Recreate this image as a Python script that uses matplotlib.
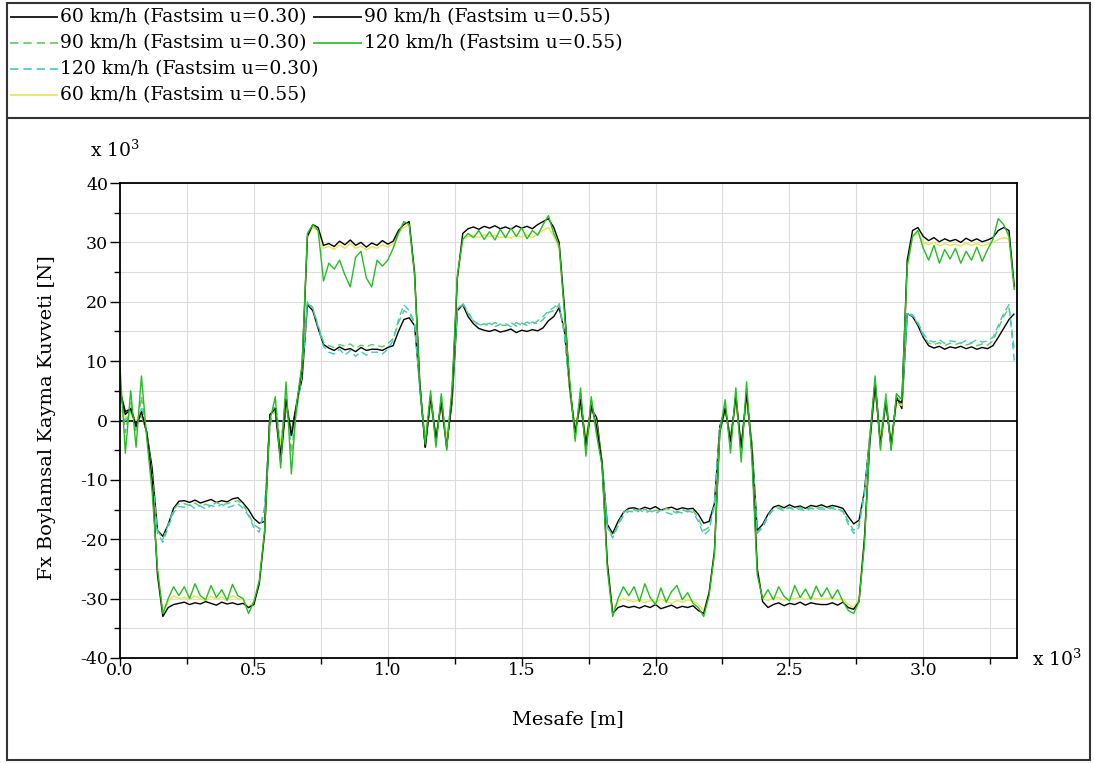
"""
Fx longitudinal creep force along the track, Fastsim u=0.30 / u=0.55
"""
import numpy as np
import matplotlib
matplotlib.use("Agg")
import matplotlib.pyplot as plt
from matplotlib.lines import Line2D
from matplotlib.patches import Rectangle
from matplotlib.ticker import MultipleLocator, FormatStrFormatter

plt.rcParams["font.family"] = ["DejaVu Serif"]
plt.rcParams["mathtext.fontset"] = "dejavuserif"
plt.rcParams["axes.unicode_minus"] = False

# ── Data (x 10^3 m, x 10^3 N), one sample every 0.02 ──
step = 0.02

fx60_030 = [
    5.0, 1.5, 2.0, -0.5, 1.0, -2.0, -8.0, -18.5, -19.5, -17.5, -14.8, -13.6,
    -13.5, -13.8, -13.4, -13.9, -13.6, -13.3, -13.8, -13.5, -13.7, -13.2, -13.0, -13.9,
    -15.0, -16.5, -17.3, -17.0, 1.0, 1.5, -7.0, 2.5, -2.0, 3.0, 7.0, 19.5,
    18.5, 15.5, 12.8, 12.2, 11.8, 12.4, 11.9, 12.1, 11.6, 12.3, 11.8, 12.0,
    12.0, 11.8, 12.3, 12.6, 15.0, 17.0, 17.3, 16.0, 6.0, -4.5, 3.5, -3.0,
    3.0, -4.0, 3.0, 18.5, 19.5, 17.5, 16.3, 15.5, 15.2, 15.0, 15.3, 14.9,
    15.1, 15.4, 14.8, 15.2, 15.0, 15.3, 15.1, 15.6, 16.8, 17.5, 19.0, 15.0,
    5.0, -2.0, 3.0, -4.5, 2.0, 0.5, -7.0, -17.5, -19.0, -17.0, -15.5, -14.8,
    -14.7, -15.0, -14.6, -14.9, -14.5, -15.1, -14.8, -14.6, -15.0, -14.7, -14.9, -14.8,
    -15.8, -17.3, -17.0, -14.0, -1.0, 2.0, -3.0, 3.5, -4.5, 4.0, -4.0, -18.5,
    -17.5, -15.8, -14.6, -14.3, -14.7, -14.2, -14.6, -14.4, -14.8, -14.3, -14.5, -14.2,
    -14.6, -14.3, -14.5, -14.8, -16.2, -17.4, -16.8, -12.0, -3.0, 6.5, -3.5, 3.5,
    -4.5, 4.0, 2.0, 18.0, 17.5, 16.0, 14.0, 12.6, 12.2, 12.5, 12.0, 12.4,
    12.2, 12.5, 12.1, 12.4, 12.0, 12.3, 12.1, 12.6, 14.0, 15.5, 17.0, 18.0,
]

fx90_030 = [
    6.0, -2.0, 3.0, -2.0, 4.0, -2.5, -9.0, -18.5, -20.0, -17.5, -15.0, -14.0,
    -14.0, -14.3, -13.9, -14.5, -14.1, -14.4, -13.8, -14.2, -14.0, -13.7, -13.5, -14.2,
    -15.8, -17.5, -18.2, -15.5, -1.0, 3.5, -5.0, 5.0, -5.5, 2.5, 8.5, 20.0,
    19.0, 16.0, 13.2, 12.6, 12.3, 12.8, 12.5, 12.9, 12.2, 12.7, 12.4, 12.8,
    12.6, 12.4, 12.9, 13.8, 16.5, 18.5, 18.0, 16.5, 6.0, -3.5, 4.5, -4.0,
    3.5, -5.0, 5.0, 18.5, 19.6, 18.0, 16.8, 16.0, 16.3, 15.9, 16.5, 16.1,
    16.0, 16.5, 15.9, 16.4, 16.0, 16.6, 16.3, 17.0, 18.2, 18.5, 19.5, 14.5,
    6.0, -3.0, 5.0, -5.5, 3.5, -2.0, -7.0, -17.8, -19.5, -17.5, -15.5, -15.0,
    -15.0, -15.4, -14.9, -15.5, -15.1, -15.3, -14.8, -15.2, -15.6, -15.0, -15.4, -15.1,
    -16.5, -18.5, -18.0, -14.5, -1.5, 3.0, -4.5, 4.5, -6.0, 5.0, -5.5, -18.8,
    -17.8, -16.0, -14.8, -14.5, -15.0, -14.6, -14.9, -14.6, -15.1, -14.5, -14.8, -14.6,
    -14.8, -14.6, -14.9, -15.2, -17.0, -18.5, -17.5, -12.0, -3.5, 7.0, -4.5, 4.5,
    -5.0, 4.5, 2.5, 18.0, 17.6, 16.3, 14.3, 13.0, 12.8, 13.1, 12.6, 13.0,
    12.8, 13.1, 12.7, 13.0, 12.6, 12.9, 12.7, 13.4, 15.5, 17.5, 19.0, 12.0,
]

fx120_030 = [
    4.0, 0.0, 1.5, -1.0, 2.0, -2.0, -10.0, -19.0, -20.5, -18.0, -15.5, -14.5,
    -14.6, -14.2, -14.8, -14.4, -14.9, -14.3, -14.6, -14.1, -14.7, -14.4, -14.0, -14.8,
    -16.0, -18.0, -18.8, -14.5, 0.0, 2.5, -4.0, 3.5, -3.0, 1.5, 8.0, 19.8,
    18.8, 15.8, 12.5, 11.5, 11.2, 12.0, 11.0, 11.8, 10.8, 11.6, 11.0, 11.5,
    11.5, 11.2, 12.0, 13.5, 17.0, 19.5, 18.5, 16.5, 5.0, -4.0, 4.0, -3.5,
    4.0, -3.5, 4.5, 18.8, 19.8, 18.2, 16.8, 16.2, 16.0, 16.4, 15.8, 16.2,
    16.3, 15.8, 16.5, 16.0, 16.6, 16.1, 16.8, 17.5, 18.5, 19.0, 19.8, 14.5,
    4.5, -1.5, 4.0, -3.5, 3.0, -1.0, -7.5, -18.0, -19.8, -17.8, -16.0, -15.3,
    -15.4, -15.0, -15.6, -15.2, -15.7, -15.1, -15.5, -15.8, -15.3, -15.6, -15.2, -15.5,
    -17.0, -19.3, -18.5, -14.0, -1.0, 2.0, -3.0, 3.5, -4.5, 4.0, -4.0, -19.0,
    -18.0, -16.2, -15.0, -14.8, -15.2, -14.7, -15.1, -14.9, -15.3, -14.8, -15.0, -14.9,
    -15.0, -14.8, -15.1, -15.3, -17.5, -19.0, -18.0, -12.5, -2.5, 5.0, -3.0, 4.0,
    -4.0, 3.5, 3.0, 18.2, 17.8, 16.5, 14.6, 13.5, 13.2, 13.6, 13.0, 13.4,
    13.3, 13.0, 13.5, 13.1, 13.6, 13.2, 13.4, 14.0, 16.0, 18.0, 19.5, 10.0,
]

fx60_055 = [
    2.0, 0.5, 1.0, 0.0, 1.0, -2.0, -10.0, -25.0, -32.5, -30.5, -29.5, -30.0,
    -29.8, -30.2, -29.5, -30.0, -30.4, -29.6, -30.1, -29.7, -30.3, -29.5, -30.0, -30.2,
    -31.5, -30.5, -27.5, -19.0, 1.0, 1.5, -4.0, 2.5, -2.0, 2.0, 9.0, 31.0,
    32.5, 32.0, 29.0, 29.3, 28.8, 29.6, 29.0, 29.8, 29.0, 29.4, 28.7, 29.3,
    29.0, 29.6, 29.2, 29.8, 31.5, 32.5, 33.0, 24.5, 6.0, -3.5, 3.5, -2.5,
    2.5, -3.0, 3.5, 24.0, 30.5, 31.0, 31.2, 30.8, 31.3, 30.9, 31.2, 30.8,
    31.0, 30.7, 31.2, 30.9, 31.3, 30.8, 31.4, 32.0, 32.5, 31.0, 29.0, 18.5,
    4.5, -1.0, 3.0, -3.0, 2.5, -0.5, -7.0, -24.0, -32.0, -30.5, -30.0, -30.3,
    -30.5, -30.2, -30.7, -30.3, -30.6, -30.1, -30.5, -30.8, -30.3, -30.6, -30.2, -30.4,
    -31.0, -32.0, -29.0, -22.0, -1.5, 1.5, -3.0, 3.0, -4.0, 3.5, -4.5, -25.0,
    -30.0, -30.3, -30.0, -29.8, -30.3, -29.9, -30.1, -29.7, -30.2, -29.8, -30.0, -30.1,
    -30.0, -29.8, -30.2, -30.0, -31.0, -31.5, -30.0, -20.0, -3.0, 5.0, -3.0, 3.0,
    -3.5, 3.0, 2.5, 26.0, 31.0, 31.5, 30.0, 29.6, 30.0, 29.4, 29.8, 29.5,
    29.7, 29.4, 29.9, 29.5, 29.8, 29.4, 29.7, 30.0, 30.5, 30.8, 30.5, 22.0,
]

fx90_055 = [
    5.0, 1.0, 2.0, -1.0, 1.5, -2.0, -10.0, -26.0, -33.0, -31.5, -31.0, -30.8,
    -30.6, -31.0, -30.7, -30.9, -30.5, -30.8, -31.1, -30.6, -30.9, -30.7, -31.0, -30.8,
    -31.5, -31.0, -27.5, -19.0, 1.0, 2.0, -6.0, 3.5, -2.5, 2.5, 9.0, 31.0,
    33.0, 32.5, 29.5, 29.8, 29.3, 30.2, 29.6, 30.4, 29.5, 30.0, 29.2, 29.9,
    29.5, 30.3, 29.7, 30.2, 32.0, 33.0, 33.5, 25.0, 6.0, -4.5, 4.0, -3.0,
    3.0, -4.5, 4.0, 24.0, 31.5, 32.3, 32.6, 32.2, 32.7, 32.4, 32.8, 32.3,
    32.6, 32.2, 32.8, 32.4, 32.7, 32.3, 33.0, 33.5, 34.0, 32.5, 30.0, 19.0,
    5.5, -2.0, 3.5, -4.0, 2.5, -1.0, -7.0, -24.0, -32.5, -31.5, -31.2, -31.5,
    -31.3, -31.6, -31.2, -31.5, -31.0, -31.7, -31.4, -31.1, -31.6, -31.3, -31.5, -31.2,
    -32.0, -32.5, -29.0, -22.0, -2.0, 2.0, -3.5, 4.0, -4.5, 4.5, -5.0, -25.0,
    -30.5, -31.5, -31.0, -30.7, -31.2, -30.8, -31.0, -30.6, -31.1, -30.7, -30.9, -31.0,
    -31.0, -30.7, -31.1, -30.6, -31.5, -31.8, -30.5, -20.0, -4.0, 6.0, -4.0, 3.0,
    -4.0, 3.5, 3.0, 27.0, 32.0, 32.5, 31.0, 30.3, 30.8, 30.1, 30.6, 30.2,
    30.5, 30.0, 30.7, 30.2, 30.6, 30.1, 30.4, 30.8, 32.0, 32.5, 32.0, 22.5,
]

fx120_055 = [
    9.0, -5.5, 5.0, -4.5, 7.5, -3.0, -12.0, -25.0, -32.5, -30.0, -28.0, -29.5,
    -28.0, -30.0, -27.5, -29.5, -30.2, -27.8, -29.8, -28.5, -30.3, -27.6, -29.5, -30.0,
    -32.5, -30.5, -27.0, -18.5, 0.0, 4.0, -8.0, 6.5, -9.0, 3.0, 9.5, 31.5,
    33.0, 32.0, 23.5, 26.5, 25.5, 27.0, 24.5, 22.5, 27.5, 28.5, 24.0, 22.5,
    27.0, 26.0, 27.0, 29.0, 31.5, 33.5, 33.0, 24.5, 5.5, -4.0, 5.0, -4.5,
    4.5, -5.0, 5.5, 24.5, 30.5, 31.5, 30.8, 32.0, 30.5, 31.8, 30.4, 32.2,
    30.8, 32.4, 31.0, 32.5, 30.6, 32.0, 31.2, 33.0, 34.5, 31.5, 29.5, 18.0,
    6.5, -3.5, 5.5, -6.0, 4.0, -2.5, -7.5, -25.0, -33.0, -30.0, -28.0, -29.5,
    -28.0, -30.5, -27.5, -29.8, -31.0, -28.2, -30.6, -28.8, -27.8, -30.2, -29.0, -30.8,
    -31.5, -33.0, -29.5, -22.5, -2.0, 3.5, -5.5, 5.5, -7.0, 6.5, -6.5, -26.0,
    -30.0, -28.5, -30.2, -28.0, -29.6, -30.4, -27.8, -29.8, -28.4, -30.1, -27.9, -29.7,
    -28.2, -30.0, -28.5, -30.5, -32.0, -32.5, -30.5, -21.0, -3.5, 7.5, -5.0, 4.0,
    -5.0, 4.5, 3.5, 26.0, 31.0, 32.0, 29.0, 27.0, 29.5, 26.5, 28.8, 27.2,
    29.0, 26.5, 28.5, 27.0, 29.2, 26.8, 28.8, 30.5, 34.0, 33.0, 31.0, 22.0,
]

labels = [
    "60 km/h (Fastsim u=0.30)",
    "90 km/h (Fastsim u=0.30)",
    "120 km/h (Fastsim u=0.30)",
    "60 km/h (Fastsim u=0.55)",
    "90 km/h (Fastsim u=0.55)",
    "120 km/h (Fastsim u=0.55)",
]
series = [fx60_030, fx90_030, fx120_030, fx60_055, fx90_055, fx120_055]
colors = ["#000000", "#5ccc5c", "#3cc8d0", "#e6e64a", "#000000", "#22bf22"]
styles = [(0, ()), (0, (5, 3)), (0, (5, 3)), (0, ()), (0, ()), (0, ())]

x = np.arange(len(fx60_030)) * step

# ── Figure ──
W, H = 1094, 763
fig = plt.figure(figsize=(W / 100, H / 100), dpi=100)
ax = fig.add_axes([120 / W, (H - 658) / H, (1017 - 120) / W, (658 - 183) / H])

ax.axhline(0, color="black", lw=1.2, zorder=1.5)
for y, c, ls, lab in zip(series, colors, styles, labels):
    ax.plot(x, y, color=c, ls=ls, lw=1.0, label=lab, zorder=2)

ax.set_xlim(0, 3.35)
ax.set_ylim(-40, 40)
ax.xaxis.set_major_locator(MultipleLocator(0.5))
ax.xaxis.set_minor_locator(MultipleLocator(0.25))
ax.yaxis.set_major_locator(MultipleLocator(10))
ax.yaxis.set_minor_locator(MultipleLocator(5))
ax.xaxis.set_major_formatter(FormatStrFormatter("%.1f"))
ax.yaxis.set_major_formatter(FormatStrFormatter("%d"))
ax.grid(which="both", color="#dcdcdc", lw=0.8)
ax.set_axisbelow(True)
for s in ax.spines.values():
    s.set_linewidth(1.3)
ax.tick_params(axis="both", which="both", direction="out", width=1.0, labelsize=12.5)
ax.tick_params(axis="x", which="major", length=6, pad=-3)
ax.tick_params(axis="x", which="minor", length=4)
ax.tick_params(axis="y", which="major", length=7, pad=1.5)
ax.tick_params(axis="y", which="minor", length=4)

fig.text(90 / W, 1 - 157 / H, "x 10$^{3}$", fontsize=13.5, ha="left", va="baseline")
fig.text(1032 / W, 1 - 666 / H, "x 10$^{3}$", fontsize=13.5, ha="left", va="baseline")
fig.text(47 / W, 1 - 418 / H, "Fx Boylamsal Kayma Kuvveti [N]", fontsize=14,
         rotation=90, ha="center", va="center")
fig.text(568 / W, 1 - 719 / H, "Mesafe [m]", fontsize=14, ha="center", va="center")

# ── Legend panel (4 rows in first column, 2 in second) ──
rows = [17, 43, 69, 95]
slots = [(10, 58, rows[0]), (10, 58, rows[1]), (10, 58, rows[2]), (10, 58, rows[3]),
         (313, 362, rows[0]), (313, 362, rows[1])]
for (x0, x1, yy), c, ls, lab in zip(slots, colors, styles, labels):
    fy = 1 - yy / H
    fig.add_artist(Line2D([x0 / W, x1 / W], [fy, fy], color=c, ls=ls, lw=1.2,
                          transform=fig.transFigure))
    fig.text((x1 + 2) / W, fy, lab, fontsize=13.5, ha="left", va="center")

fig.add_artist(Rectangle((7 / W, 3 / H), 1083 / W, 757 / H, transform=fig.transFigure,
                         fill=False, ec="#333333", lw=1.5))
fig.add_artist(Line2D([7 / W, 1090 / W], [1 - 118 / H, 1 - 118 / H], color="#333333",
                      lw=1.5, transform=fig.transFigure))

fig.savefig("out.png", dpi=100)
print("[OK] Saved out.png")
